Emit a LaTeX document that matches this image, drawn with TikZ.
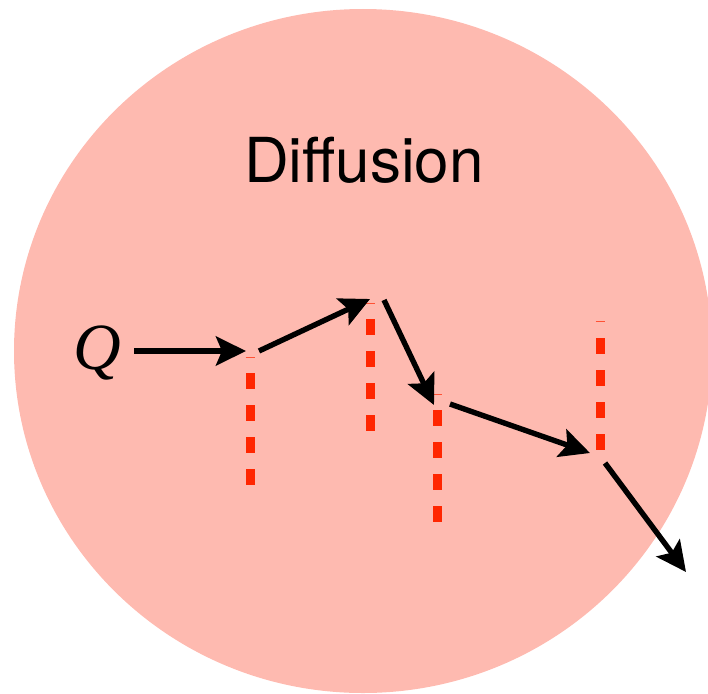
\documentclass[tikz,border=0pt]{standalone}
\usepackage{fontspec}
\newfontfamily\heros{TeX Gyre Heros}
\newfontfamily\timesit{Liberation Serif}[ItalicFont={* Italic}]
\usetikzlibrary{arrows.meta}
\definecolor{blobpink}{RGB}{254,186,176}
\definecolor{keyred}{RGB}{255,38,0}
\tikzset{
  jump/.style={line width=5.4pt, draw=black, -{Stealth[length=30pt,width=29pt,inset=6pt]}},
  trap/.style={line width=9pt, draw=keyred, dash pattern=on 16pt off 16pt},
  hair/.style={line width=0.8pt, draw=keyred!70!blobpink}
}
\begin{document}
\begin{tikzpicture}[x=1pt,y=-1pt]
\useasboundingbox (0,0) rectangle (708,693);
\fill[blobpink] (363,351) ellipse [x radius=349, y radius=342];
\node[anchor=base, inner sep=0pt, font=\heros\fontsize{62pt}{62pt}\selectfont] (title) at (364,182) {Diffusion};
\node[anchor=base, inner sep=0pt, font=\timesit\fontsize{66pt}{66pt}\selectfont\itshape] (Q) at (97,369) {Q};
% jump points
\coordinate (a0) at (134,351);
\coordinate (a1e) at (246,351);
\coordinate (a1s) at (259,351);
\coordinate (a2e) at (370,299);
\coordinate (a2s) at (384,300);
\coordinate (a3e) at (434,405);
\coordinate (a3s) at (450,404);
\coordinate (a4e) at (590,453);
\coordinate (a4s) at (605,463);
\coordinate (a5e) at (686,572);
% traps
\coordinate (t1h) at (250,357); \coordinate (t1a) at (250,373); \coordinate (t1b) at (250,485);
\coordinate (t2h) at (370,303); \coordinate (t2a) at (370,319); \coordinate (t2b) at (370,431);
\coordinate (t3h) at (437,394); \coordinate (t3a) at (437,410); \coordinate (t3b) at (437,522);
\coordinate (t4h) at (600,321); \coordinate (t4a) at (600,338); \coordinate (t4b) at (600,450);
\foreach \t in {t1,t2,t3,t4}{
  \draw[trap] (\t a) -- (\t b);
  \draw[hair] ([xshift=-4.5pt]\t h) -- ([xshift=4.5pt]\t h);
}
\draw[jump] (a0) -- (a1e);
\draw[jump] (a1s) -- (a2e);
\draw[jump] (a2s) -- (a3e);
\draw[jump] (a3s) -- (a4e);
\draw[jump] (a4s) -- (a5e);
\end{tikzpicture}
\end{document}
